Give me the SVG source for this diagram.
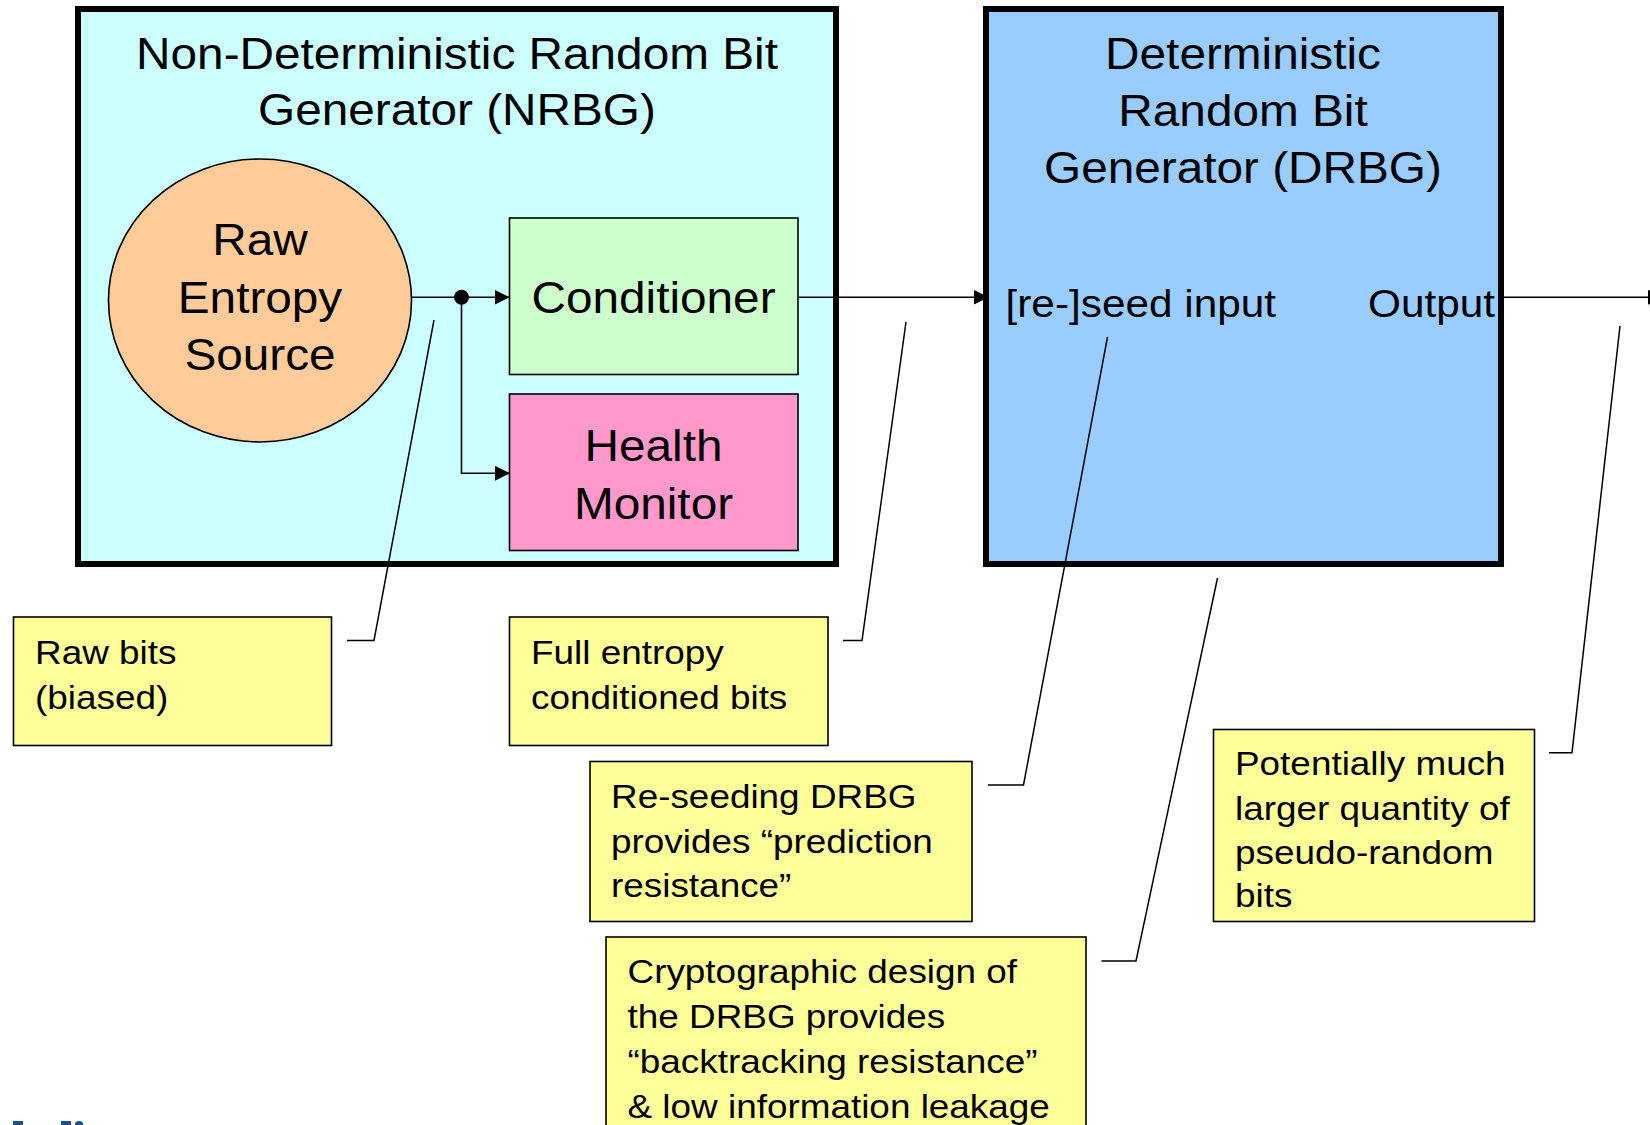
<svg xmlns="http://www.w3.org/2000/svg" width="1650" height="1125" viewBox="0 0 1650 1125">
<style>
  .t44 { font-family: "Liberation Sans", Arial, sans-serif; font-size: 44px; fill: #000; }
  .t38 { font-family: "Liberation Sans", Arial, sans-serif; font-size: 39px; fill: #000; }
  .t34 { font-family: "Liberation Sans", Arial, sans-serif; font-size: 34px; fill: #000; }
  .mid { text-anchor: middle; }
  .end { text-anchor: end; }
  .big { stroke: #000; stroke-width: 6; }
  .thin { stroke: #000; stroke-width: 1.6; }
  .conn { fill: none; stroke: #000; stroke-width: 1.6; }
  .lead { fill: none; stroke: #000; stroke-width: 1.5; }
  .note { fill: #FFFF99; stroke: #000; stroke-width: 1.6; }
</style>
<defs>
  <marker id="arrow" markerUnits="userSpaceOnUse" markerWidth="16" markerHeight="16" refX="15" refY="7.5" orient="auto">
    <path d="M0,0 L15,7.5 L0,15 Z" fill="#000"/>
  </marker>
</defs>
<rect width="1650" height="1125" fill="#fff"/>

<g id="nrbg">
  <rect x="78" y="9" width="758" height="555" fill="#CCFFFF" class="big"/>
  <text class="t44 mid" transform="translate(457 69) scale(1.085 1)">Non-Deterministic Random Bit</text>
  <text class="t44 mid" transform="translate(457 124.5) scale(1.085 1)">Generator (NRBG)</text>
</g>

<g id="drbg">
  <rect x="986" y="9" width="515" height="555" fill="#99CCFF" class="big"/>
  <text class="t44 mid" transform="translate(1243 69) scale(1.085 1)">Deterministic</text>
  <text class="t44 mid" transform="translate(1243 126) scale(1.085 1)">Random Bit</text>
  <text class="t44 mid" transform="translate(1243 183) scale(1.085 1)">Generator (DRBG)</text>
  <text class="t38" transform="translate(1005.5 317) scale(1.085 1)">[re-]seed input</text>
  <text class="t38 end" transform="translate(1495 317) scale(1.085 1)">Output</text>
</g>

<g id="raw-entropy-source">
  <ellipse cx="260" cy="300.5" rx="151.5" ry="141.5" fill="#FFCC99" class="thin"/>
  <text class="t44 mid" transform="translate(260 255) scale(1.085 1)">Raw</text>
  <text class="t44 mid" transform="translate(260 313) scale(1.085 1)">Entropy</text>
  <text class="t44 mid" transform="translate(260 370) scale(1.085 1)">Source</text>
</g>

<g id="conditioner">
  <rect x="509.5" y="218" width="288.5" height="156.5" fill="#CCFFCC" class="thin"/>
  <text class="t44 mid" transform="translate(653.5 313) scale(1.085 1)">Conditioner</text>
</g>

<g id="health-monitor">
  <rect x="509.5" y="394" width="288.5" height="156.5" fill="#FF99CC" class="thin"/>
  <text class="t44 mid" transform="translate(653.5 461) scale(1.085 1)">Health</text>
  <text class="t44 mid" transform="translate(653.5 518.5) scale(1.085 1)">Monitor</text>
</g>

<g id="note-raw-bits">
  <rect x="13.5" y="617" width="318" height="128.5" class="note"/>
  <text class="t34" transform="translate(35 663.5) scale(1.085 1)">Raw bits</text>
  <text class="t34" transform="translate(35 708.5) scale(1.085 1)">(biased)</text>
</g>

<g id="note-full-entropy">
  <rect x="509.5" y="617" width="318.5" height="128.5" class="note"/>
  <text class="t34" transform="translate(531 663.5) scale(1.085 1)">Full entropy</text>
  <text class="t34" transform="translate(531 708.5) scale(1.085 1)">conditioned bits</text>
</g>

<g id="note-reseeding">
  <rect x="590" y="761.5" width="382" height="160" class="note"/>
  <text class="t34" transform="translate(611 807.5) scale(1.085 1)">Re-seeding DRBG</text>
  <text class="t34" transform="translate(611 852.5) scale(1.085 1)">provides “prediction</text>
  <text class="t34" transform="translate(611 897) scale(1.085 1)">resistance”</text>
</g>

<g id="note-crypto-design">
  <rect x="606" y="937" width="480" height="200" class="note"/>
  <text class="t34" transform="translate(627.5 983) scale(1.085 1)">Cryptographic design of</text>
  <text class="t34" transform="translate(627.5 1028) scale(1.085 1)">the DRBG provides</text>
  <text class="t34" transform="translate(627.5 1073) scale(1.085 1)">“backtracking resistance”</text>
  <text class="t34" transform="translate(627.5 1117.5) scale(1.085 1)">&amp; low information leakage</text>
</g>

<g id="note-output">
  <rect x="1213.5" y="729.5" width="321" height="192" class="note"/>
  <text class="t34" transform="translate(1235 774.5) scale(1.085 1)">Potentially much</text>
  <text class="t34" transform="translate(1235 819.5) scale(1.085 1)">larger quantity of</text>
  <text class="t34" transform="translate(1235 863.5) scale(1.085 1)">pseudo-random</text>
  <text class="t34" transform="translate(1235 907) scale(1.085 1)">bits</text>
</g>

<g id="connectors">
  <path class="conn" d="M411.5,297.3 H509.5" marker-end="url(#arrow)"/>
  <path class="conn" d="M461.5,297.3 V473.3 H510" marker-end="url(#arrow)"/>
  <circle cx="461.5" cy="297.3" r="7.5" fill="#000"/>
  <path class="conn" d="M798,297.3 H988.5" marker-end="url(#arrow)"/>
  <path class="conn" d="M1504,297.3 H1663" marker-end="url(#arrow)"/>
  <path class="lead" d="M434,320 L374,640.5 H347"/>
  <path class="lead" d="M906,322 L862,640.5 H843"/>
  <path class="lead" d="M1107.5,337 L1023.5,785 H988"/>
  <path class="lead" d="M1217.5,578 L1136,961 H1101.5"/>
  <path class="lead" d="M1620,326 L1572,752.7 H1549"/>
</g>

<g id="logo-fragment" fill="#1F4E8A">
  <rect x="13" y="1121" width="10" height="4"/>
  <rect x="61" y="1121" width="10" height="4"/>
  <ellipse cx="79" cy="1124" rx="4" ry="3"/>
</g>
</svg>
